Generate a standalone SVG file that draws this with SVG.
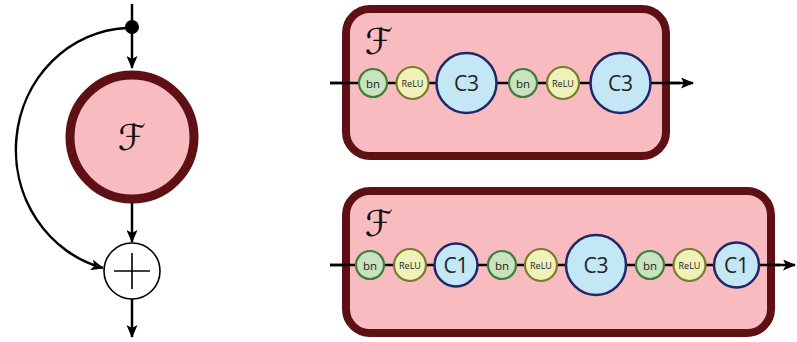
<svg xmlns="http://www.w3.org/2000/svg" width="797" height="342" viewBox="0 0 797 342">
<defs>
<marker id="arr" markerWidth="13" markerHeight="11" refX="12" refY="5.5" orient="auto" markerUnits="userSpaceOnUse">
<path d="M0,0 L13,5.5 L0,11 L3,5.5 z" fill="#000"/>
</marker>
<style>
.ln{stroke:#000;stroke-width:2.5;fill:none}
.box{fill:#f8bcc0;stroke:#5e1014;stroke-width:8}
.bn{fill:#c8e3c0;stroke:#3f7d3a;stroke-width:2.2}
.relu{fill:#eef2b9;stroke:#7b7b2c;stroke-width:2.2}
.cv{fill:#c4e7f5;stroke:#1f2768;stroke-width:2.5}
.t{font-family:"Open Sans","DejaVu Sans",sans-serif;fill:#222;text-anchor:middle;dominant-baseline:central}
.tb{font-size:11.5px}
.tr{font-size:9px}
.tc{font-size:21px}
.sf{font-family:"DejaVu Serif","DejaVu Sans",serif;font-style:italic;font-size:36px;fill:#111;text-anchor:middle;dominant-baseline:central}
</style>
</defs>
<g id="connectors">
<line class="ln" x1="132" y1="4" x2="132" y2="68" marker-end="url(#arr)"/>
<line class="ln" x1="132" y1="203" x2="132" y2="242" marker-end="url(#arr)"/>
<line class="ln" x1="132" y1="299" x2="132" y2="337" marker-end="url(#arr)"/>
<path class="ln" d="M126,28 A116 122 0 0 0 103,268" marker-end="url(#arr)"/>
<line class="ln" x1="330" y1="83" x2="693" y2="83" marker-end="url(#arr)"/>
<line class="ln" x1="330" y1="265" x2="795" y2="265" marker-end="url(#arr)"/>
</g>
<g id="split"><circle cx="132" cy="27" r="7" fill="#000"/></g>
<g id="F"><circle cx="132" cy="137" r="62" fill="#f8bcc0" stroke="#5e1014" stroke-width="9"/><text class="sf" x="132" y="137">ℱ</text></g>
<g id="sum"><circle cx="132" cy="271" r="28" fill="#fff" stroke="#000" stroke-width="1.6"/><path d="M114,271 H150 M132,253 V289" stroke="#000" stroke-width="1.6"/></g>

<g id="box1"><rect class="box" x="346" y="9" width="320" height="147" rx="24"/><text class="sf" x="379" y="41">ℱ</text></g>
<line class="ln" x1="330" y1="83" x2="680" y2="83"/>
<g id="b1bn1"><circle class="bn" cx="373" cy="83" r="14"/><text class="t tb" x="373" y="83">bn</text></g>
<g id="b1relu1"><circle class="relu" cx="412.5" cy="83" r="16"/><text class="t tr" x="412.5" y="83">ReLU</text></g>
<g id="b1c31"><circle class="cv" cx="466.5" cy="83" r="30"/><text class="t tc" x="466.5" y="83">C3</text></g>
<g id="b1bn2"><circle class="bn" cx="523" cy="83" r="14"/><text class="t tb" x="523" y="83">bn</text></g>
<g id="b1relu2"><circle class="relu" cx="563" cy="83" r="16"/><text class="t tr" x="563" y="83">ReLU</text></g>
<g id="b1c32"><circle class="cv" cx="620.5" cy="83" r="30"/><text class="t tc" x="620.5" y="83">C3</text></g>

<g id="box2"><rect class="box" x="346" y="191" width="425" height="142" rx="24"/><text class="sf" x="379" y="223">ℱ</text></g>
<line class="ln" x1="330" y1="265" x2="780" y2="265"/>
<g id="b2bn1"><circle class="bn" cx="370" cy="265" r="14"/><text class="t tb" x="370" y="265">bn</text></g>
<g id="b2relu1"><circle class="relu" cx="410" cy="265" r="16"/><text class="t tr" x="410" y="265">ReLU</text></g>
<g id="b2c11"><circle class="cv" cx="456" cy="265" r="21.5"/><text class="t tc" x="456" y="265">C1</text></g>
<g id="b2bn2"><circle class="bn" cx="502" cy="265" r="14"/><text class="t tb" x="502" y="265">bn</text></g>
<g id="b2relu2"><circle class="relu" cx="541" cy="265" r="16"/><text class="t tr" x="541" y="265">ReLU</text></g>
<g id="b2c3"><circle class="cv" cx="596" cy="265" r="30"/><text class="t tc" x="596" y="265">C3</text></g>
<g id="b2bn3"><circle class="bn" cx="650" cy="265" r="14"/><text class="t tb" x="650" y="265">bn</text></g>
<g id="b2relu3"><circle class="relu" cx="689.5" cy="265" r="16"/><text class="t tr" x="689.5" y="265">ReLU</text></g>
<g id="b2c12"><circle class="cv" cx="736.5" cy="265" r="22.5"/><text class="t tc" x="736.5" y="265">C1</text></g>
</svg>
